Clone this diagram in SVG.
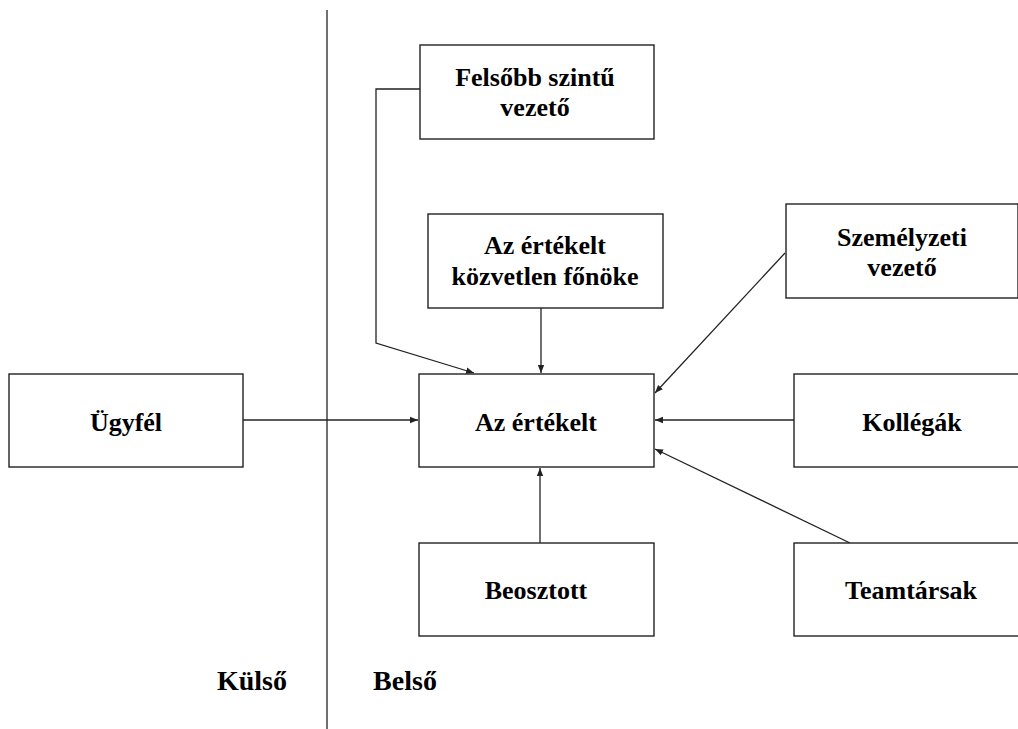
<svg xmlns="http://www.w3.org/2000/svg" width="1018" height="729" viewBox="0 0 1018 729">
  <style>
    .box { fill: #ffffff; stroke: #222222; stroke-width: 1.4; }
    .lbl { font-family: "Liberation Serif", "Times New Roman", serif; font-weight: bold; font-size: 26px; fill: #000000; text-anchor: middle; }
    .zone { font-size: 28px; }
    .conn { fill: none; stroke: #222222; stroke-width: 1.3; }
    .arrow { marker-end: url(#head); }
  </style>
  <defs>
    <marker id="head" viewBox="0 0 10 10" refX="10" refY="5" markerWidth="8" markerHeight="8" markerUnits="userSpaceOnUse" orient="auto">
      <path d="M0,1 L10,5 L0,9 Z" fill="#222222"/>
    </marker>
  </defs>
  <rect width="1018" height="729" fill="#ffffff"/>

  <!-- boundary between external and internal raters -->
  <line x1="327" y1="10" x2="327" y2="729" class="conn"/>

  <g id="connectors">
    <polyline class="conn arrow" points="420,89 376,89 376,343 474,373"/>
    <line class="conn arrow" x1="541" y1="308" x2="541" y2="373"/>
    <line class="conn arrow" x1="785" y1="253" x2="655" y2="393"/>
    <line class="conn arrow" x1="794" y1="420" x2="655" y2="420"/>
    <line class="conn arrow" x1="850" y1="543" x2="655" y2="449"/>
    <line class="conn arrow" x1="540" y1="543" x2="540" y2="468"/>
    <line class="conn arrow" x1="241" y1="420" x2="418" y2="420"/>
  </g>

  <g id="felsobb">
    <rect class="box" x="420" y="45" width="234" height="94"/>
    <text class="lbl" x="535" y="86">Felsőbb szintű</text>
    <text class="lbl" x="535" y="116">vezető</text>
  </g>

  <g id="kozvetlen-fonok">
    <rect class="box" x="428" y="214" width="235" height="94"/>
    <text class="lbl" x="545" y="254">Az értékelt</text>
    <text class="lbl" x="545" y="285">közvetlen főnöke</text>
  </g>

  <g id="szemelyzeti">
    <rect class="box" x="786" y="204" width="232" height="94"/>
    <text class="lbl" x="902" y="246">Személyzeti</text>
    <text class="lbl" x="902" y="276">vezető</text>
  </g>

  <g id="ugyfel">
    <rect class="box" x="9" y="374" width="234" height="93"/>
    <text class="lbl" x="126" y="431">Ügyfél</text>
  </g>

  <g id="ertekelt">
    <rect class="box" x="419" y="374" width="235" height="93"/>
    <text class="lbl" x="536" y="431">Az értékelt</text>
  </g>

  <g id="kollegak">
    <rect class="box" x="794" y="374" width="226" height="93"/>
    <text class="lbl" x="912" y="431">Kollégák</text>
  </g>

  <g id="beosztott">
    <rect class="box" x="419" y="543" width="235" height="93"/>
    <text class="lbl" x="536" y="599">Beosztott</text>
  </g>

  <g id="teamtarsak">
    <rect class="box" x="794" y="543" width="226" height="93"/>
    <text class="lbl" x="911" y="599">Teamtársak</text>
  </g>

  <g id="zones">
    <text class="lbl zone" x="252" y="690">Külső</text>
    <text class="lbl zone" x="405" y="690">Belső</text>
  </g>
</svg>
